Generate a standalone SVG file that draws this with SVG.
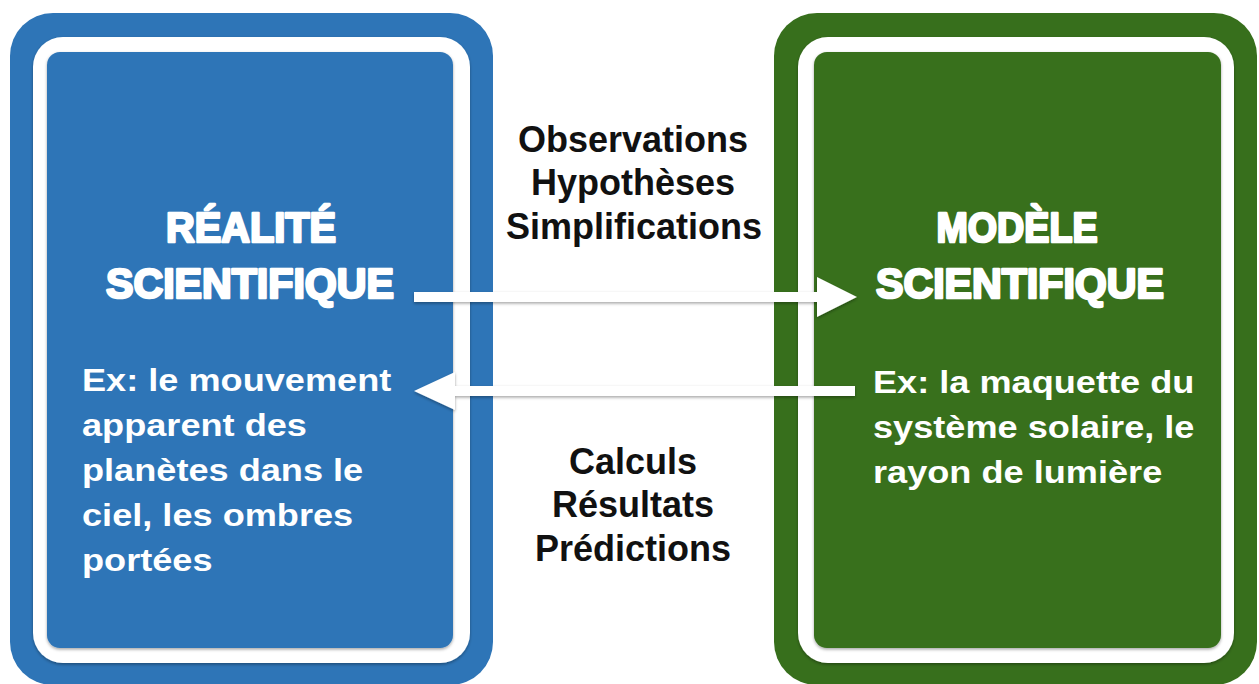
<svg xmlns="http://www.w3.org/2000/svg" width="1259" height="684" viewBox="0 0 1259 684">
  <defs>
    <filter id="sh" x="-10%" y="-10%" width="120%" height="120%">
      <feDropShadow dx="0" dy="1.5" stdDeviation="1.5" flood-color="#000" flood-opacity="0.35"/>
    </filter>
    <style>
      .blue{fill:#2E75B7}
      .green{fill:#376F1C}
      .ring{fill:#FFFFFF}
      .head{font-family:"Liberation Sans",Arial,sans-serif;font-weight:bold;font-size:42px;fill:#FFFFFF;stroke:#FFFFFF;stroke-width:2.6;stroke-linejoin:round;text-anchor:middle}
      .body{font-family:"Liberation Sans",Arial,sans-serif;font-weight:bold;font-size:32px;fill:#FFFFFF}
      .mid{font-family:"Liberation Sans",Arial,sans-serif;font-weight:bold;font-size:36px;fill:#111111;text-anchor:middle}
      .arrow{fill:#FFFFFF}
    </style>
  </defs>
  <rect width="1259" height="684" fill="#FFFFFF"/>

  <g id="realite">
    <rect class="blue" x="10" y="13" width="483" height="672" rx="43"/>
    <rect class="ring" x="33" y="37" width="437" height="626" rx="30" filter="url(#sh)"/>
    <rect class="blue" x="47" y="52" width="406" height="596" rx="13" filter="url(#sh)"/>
    <text class="head" x="251" y="242" textLength="170" lengthAdjust="spacingAndGlyphs">RÉALITÉ</text>
    <text class="head" x="250" y="298" textLength="288" lengthAdjust="spacingAndGlyphs">SCIENTIFIQUE</text>
    <g transform="translate(82 0) scale(1.13 1)">
      <text class="body" x="0" y="391">Ex: le mouvement</text>
      <text class="body" x="0" y="436">apparent des</text>
      <text class="body" x="0" y="481">planètes dans le</text>
      <text class="body" x="0" y="526">ciel, les ombres</text>
      <text class="body" x="0" y="571">portées</text>
    </g>
  </g>

  <g id="modele">
    <rect class="green" x="774" y="13" width="483" height="672" rx="43"/>
    <rect class="ring" x="798" y="37" width="436" height="626" rx="30" filter="url(#sh)"/>
    <rect class="green" x="814" y="52" width="407" height="596" rx="13" filter="url(#sh)"/>
    <text class="head" x="1017" y="242" textLength="161" lengthAdjust="spacingAndGlyphs">MODÈLE</text>
    <text class="head" x="1020" y="298" textLength="288" lengthAdjust="spacingAndGlyphs">SCIENTIFIQUE</text>
    <g transform="translate(873 0) scale(1.13 1)">
      <text class="body" x="0" y="393">Ex: la maquette du</text>
      <text class="body" x="0" y="438">système solaire, le</text>
      <text class="body" x="0" y="483">rayon de lumière</text>
    </g>
  </g>

  <g id="connectors">
    <path class="arrow" filter="url(#sh)" d="M414 292 L817 292 L817 277 L857 297 L817 317 L817 302 L414 302 Z"/>
    <path class="arrow" filter="url(#sh)" d="M855 386 L455 386 L455 372 L414 391 L455 410 L455 396 L855 396 Z"/>
    <g id="label-aller">
      <text class="mid" x="633" y="152">Observations</text>
      <text class="mid" x="633" y="195">Hypothèses</text>
      <text class="mid" x="634" y="239">Simplifications</text>
    </g>
    <g id="label-retour">
      <text class="mid" x="633" y="474">Calculs</text>
      <text class="mid" x="633" y="517">Résultats</text>
      <text class="mid" x="633" y="561">Prédictions</text>
    </g>
  </g>
</svg>
